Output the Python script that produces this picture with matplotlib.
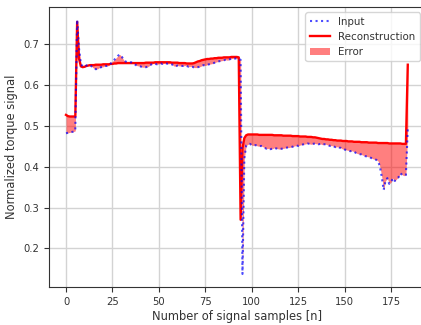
import numpy as np
import matplotlib
matplotlib.use("Agg")
import matplotlib.pyplot as plt

# measured torque signal (input) per sample
signal_in = [
    0.482, 0.483, 0.484, 0.485, 0.486, 0.488, 0.760, 0.690, 0.652, 0.645,
    0.646, 0.648, 0.650, 0.649, 0.645, 0.641, 0.639, 0.640, 0.643, 0.644,
    0.645, 0.647, 0.647, 0.648, 0.652, 0.658, 0.662, 0.667, 0.672, 0.675,
    0.670, 0.662, 0.658, 0.656, 0.655, 0.656, 0.655, 0.651, 0.648, 0.647,
    0.646, 0.644, 0.644, 0.644, 0.645, 0.648, 0.651, 0.653, 0.652, 0.651,
    0.652, 0.653, 0.652, 0.654, 0.653, 0.652, 0.653, 0.651, 0.647, 0.646,
    0.648, 0.647, 0.647, 0.647, 0.648, 0.647, 0.645, 0.646, 0.645, 0.643,
    0.643, 0.644, 0.645, 0.647, 0.649, 0.648, 0.650, 0.651, 0.652, 0.653,
    0.655, 0.657, 0.658, 0.659, 0.660, 0.661, 0.662, 0.661, 0.663, 0.665,
    0.666, 0.665, 0.666, 0.664, 0.662, 0.137, 0.420, 0.452, 0.455, 0.456,
    0.453, 0.452, 0.453, 0.451, 0.450, 0.451, 0.449, 0.446, 0.444, 0.445,
    0.443, 0.444, 0.446, 0.445, 0.444, 0.443, 0.444, 0.445, 0.446, 0.447,
    0.447, 0.448, 0.449, 0.451, 0.452, 0.451, 0.453, 0.454, 0.455, 0.456,
    0.457, 0.456, 0.455, 0.456, 0.457, 0.456, 0.455, 0.456, 0.454, 0.455,
    0.455, 0.453, 0.451, 0.452, 0.450, 0.448, 0.449, 0.447, 0.446, 0.443,
    0.442, 0.441, 0.440, 0.438, 0.439, 0.437, 0.434, 0.432, 0.431, 0.430,
    0.428, 0.426, 0.425, 0.424, 0.422, 0.420, 0.418, 0.417, 0.414, 0.400,
    0.375, 0.343, 0.365, 0.372, 0.358, 0.362, 0.372, 0.365, 0.370, 0.374,
    0.384, 0.380, 0.378, 0.380, 0.494,
]

# autoencoder reconstruction
signal_rec = [
    0.527, 0.524, 0.523, 0.523, 0.523, 0.523, 0.755, 0.665, 0.646, 0.644,
    0.645, 0.647, 0.648, 0.649, 0.649, 0.649, 0.650, 0.650, 0.650, 0.650,
    0.651, 0.651, 0.651, 0.651, 0.652, 0.652, 0.653, 0.653, 0.654, 0.654,
    0.654, 0.654, 0.654, 0.654, 0.654, 0.654, 0.654, 0.654, 0.654, 0.654,
    0.654, 0.654, 0.654, 0.655, 0.655, 0.655, 0.655, 0.655, 0.656, 0.656,
    0.656, 0.656, 0.656, 0.656, 0.656, 0.656, 0.656, 0.655, 0.655, 0.655,
    0.655, 0.654, 0.654, 0.654, 0.654, 0.653, 0.653, 0.653, 0.653, 0.654,
    0.656, 0.658, 0.659, 0.661, 0.662, 0.663, 0.664, 0.664, 0.665, 0.665,
    0.666, 0.666, 0.667, 0.667, 0.667, 0.668, 0.668, 0.668, 0.668, 0.669,
    0.669, 0.669, 0.669, 0.668, 0.270, 0.445, 0.470, 0.477, 0.479, 0.479,
    0.479, 0.479, 0.479, 0.479, 0.478, 0.478, 0.478, 0.478, 0.478, 0.478,
    0.478, 0.478, 0.477, 0.477, 0.477, 0.477, 0.477, 0.476, 0.476, 0.476,
    0.476, 0.476, 0.475, 0.475, 0.475, 0.475, 0.474, 0.474, 0.474, 0.474,
    0.473, 0.473, 0.473, 0.472, 0.472, 0.471, 0.470, 0.469, 0.468, 0.468,
    0.467, 0.467, 0.466, 0.466, 0.465, 0.465, 0.464, 0.464, 0.464, 0.463,
    0.463, 0.463, 0.462, 0.462, 0.462, 0.461, 0.461, 0.461, 0.461, 0.460,
    0.460, 0.460, 0.460, 0.459, 0.459, 0.459, 0.459, 0.459, 0.458, 0.458,
    0.458, 0.458, 0.458, 0.458, 0.457, 0.457, 0.457, 0.457, 0.457, 0.457,
    0.457, 0.456, 0.456, 0.456, 0.650,
]

n = np.arange(len(signal_in))

fig = plt.figure(figsize=(4.21, 3.25), dpi=100)
ax = fig.add_axes([0.1162, 0.116, 0.893, 0.8615])

rec_line, = ax.plot(n, signal_rec, color="red", linewidth=1.7, zorder=2)
err = ax.fill_between(n, signal_in, signal_rec, color="red", alpha=0.5,
                      linewidth=0, zorder=1)
in_line, = ax.plot(n, signal_in, color="blue", linestyle=":", linewidth=1.5,
                   alpha=0.7, zorder=3)

ax.set_xlim(-9.2, 193.2)
ax.set_ylim(0.1044, 0.7907)
ax.set_xticks([0, 25, 50, 75, 100, 125, 150, 175])
ax.set_yticks([0.2, 0.3, 0.4, 0.5, 0.6, 0.7])
ax.tick_params(labelsize=7.2, colors="#333333")
for s in ax.spines.values():
    s.set_color("#333333")
ax.grid(True, color="#d3d3d3", linewidth=1)
ax.set_axisbelow(True)

ax.set_xlabel("Number of signal samples [n]", fontsize=8.3, labelpad=2,
              color="#333333")
ax.set_ylabel("Normalized torque signal", fontsize=8.3, labelpad=4,
              color="#333333")

ax.legend([in_line, rec_line, err], ["Input", "Reconstruction", "Error"],
          loc="upper right", fontsize=7.4, labelcolor="#333333")

fig.savefig("out.png", dpi=100)
